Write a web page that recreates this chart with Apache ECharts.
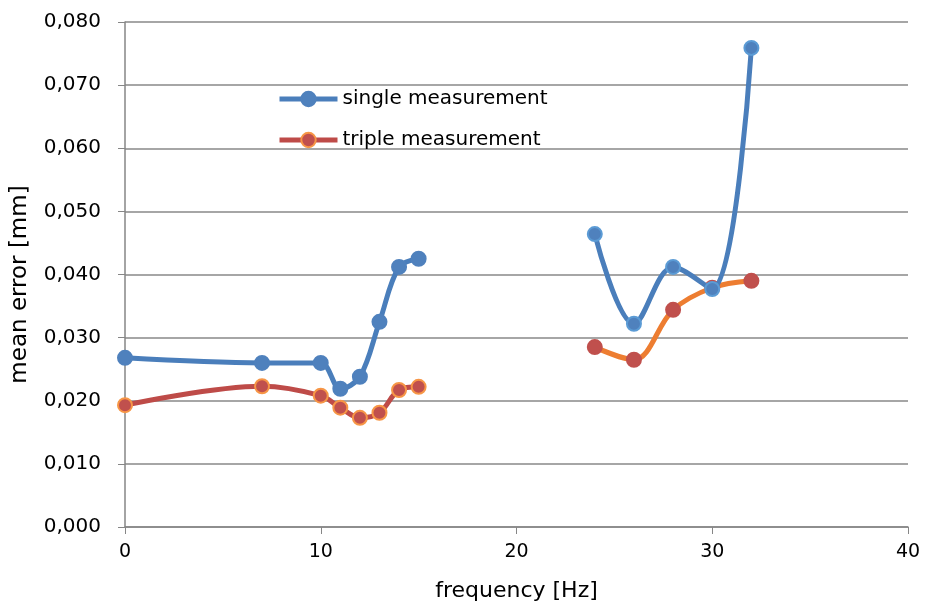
<!DOCTYPE html>
<html>
<head>
<meta charset="utf-8">
<script src="https://cdn.jsdelivr.net/npm/echarts@6/dist/echarts.min.js"></script>
<style>html,body{margin:0;padding:0;background:#fff}#c{width:925px;height:606px}</style>
</head>
<body>
<div id="c"></div>
<script>
const freqA = [0, 7, 10, 11, 12, 13, 14, 15];
const freqB = [24, 26, 28, 30, 32];
const singleA = [0.0268, 0.0260, 0.0260, 0.0219, 0.0238, 0.0325, 0.0412, 0.0425];
const singleB = [0.0464, 0.0322, 0.0412, 0.0377, 0.0759];
const tripleA = [0.0193, 0.0223, 0.0208, 0.0189, 0.0173, 0.0181, 0.0217, 0.0222];
const tripleB = [0.0285, 0.0265, 0.0344, 0.0379, 0.0390];
const seriesNames = ['single measurement', 'triple measurement'];

const pairs = (xs, ys) => xs.map((x, i) => [x, ys[i]]);
const FONT = 'DejaVu Sans';
const chart = echarts.init(document.getElementById('c'));
const lineSeries = (name, data, lineColor, fill, border) => ({
  name, type: 'line', data, smooth: 0.35,
  symbol: 'circle', symbolSize: 14,
  lineStyle: { color: lineColor, width: 5 },
  itemStyle: { color: fill, borderColor: border, borderWidth: 2 },
  emphasis: { disabled: true },
  z: name === seriesNames[0] ? 3 : 2
});
chart.setOption({
  animation: false,
  textStyle: { fontFamily: FONT },
  grid: { left: 125, right: 17, top: 22, bottom: 79, outerBoundsMode: 'none', containLabel: false },
  legend: {
    data: seriesNames, orient: 'vertical', left: 272, top: 84,
    itemWidth: 58, itemHeight: 18, itemGap: 21,
    lineStyle: { width: 5 },
    textStyle: { fontFamily: FONT, fontSize: 20, color: '#000' }
  },
  xAxis: {
    type: 'value', min: 0, max: 40, interval: 10,
    name: 'frequency [Hz]', nameLocation: 'middle', nameGap: 53,
    nameTextStyle: { fontFamily: FONT, fontSize: 22, color: '#000' },
    axisLine: { show: true, lineStyle: { color: '#868686', width: 1.5 } },
    axisTick: { show: true, length: 7, lineStyle: { color: '#868686' } },
    axisLabel: { fontFamily: FONT, fontSize: 19, color: '#000', margin: 16 },
    splitLine: { show: false }
  },
  yAxis: {
    type: 'value', min: 0, max: 0.08, interval: 0.01,
    name: 'mean error [mm]', nameLocation: 'middle', nameGap: 93,
    nameTextStyle: { fontFamily: FONT, fontSize: 23, color: '#000', padding: [0, 20, 0, 0] },
    axisLine: { show: true, lineStyle: { color: '#868686', width: 1.5 } },
    axisTick: { show: true, length: 7, lineStyle: { color: '#868686' } },
    axisLabel: { fontFamily: FONT, fontSize: 20, color: '#000', margin: 24,
      formatter: v => v.toFixed(3).replace('.', ',') },
    splitLine: { show: true, lineStyle: { color: '#898989', width: 1.5 } }
  },
  series: [
    lineSeries(seriesNames[0], pairs(freqA, singleA), '#4a7ebb', '#4f81bd', '#4f81bd'),
    lineSeries(seriesNames[1], pairs(freqA, tripleA), '#be4b48', '#c0504d', '#f79646'),
    lineSeries(seriesNames[0], pairs(freqB, singleB), '#4a7ebb', '#4f81bd', '#5b9bd5'),
    lineSeries(seriesNames[1], pairs(freqB, tripleB), '#ed7d31', '#c0504d', '#c0504d')
  ]
});
</script>
</body>
</html>
